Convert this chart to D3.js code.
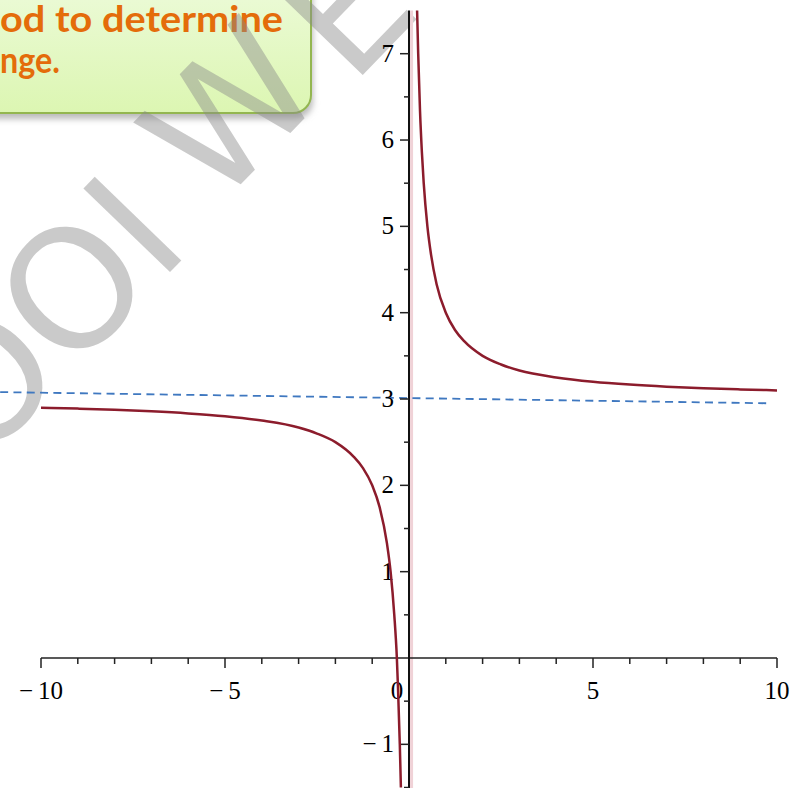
<!DOCTYPE html>
<html>
<head>
<meta charset="utf-8">
<script src="https://cdn.jsdelivr.net/npm/d3@7"></script>
<style>
  html, body { margin: 0; padding: 0; background: #fff; overflow: hidden; }
  svg { display: block; }
  .tick-label { font-family: "Liberation Serif", "Times New Roman", serif; font-size: 25px; fill: #000; }
</style>
</head>
<body>
<svg id="vis" width="801" height="788"></svg>
<script>
const width = 801;
const height = 788;

// values
const rightBranchX = [0.22, 0.25, 0.3, 0.35, 0.4, 0.5, 0.6, 0.75, 1.0, 1.25, 1.5, 2.0, 2.5, 3.0, 4.0, 5.0, 6.0, 7.0, 8.0, 9.0, 10.0];
const rightBranchY = [7.5, 7.0, 6.33, 5.86, 5.5, 5.0, 4.67, 4.33, 4.0, 3.8, 3.67, 3.5, 3.4, 3.33, 3.25, 3.2, 3.167, 3.143, 3.125, 3.111, 3.1];
const leftBranchX = [-10, -9, -8, -7, -6, -5, -4, -3, -2.5, -2, -1.5, -1.25, -1, -0.8, -0.6, -0.5, -0.4, -0.33, -0.3, -0.25, -0.22];
const leftBranchY = [2.9, 2.889, 2.875, 2.857, 2.833, 2.8, 2.75, 2.67, 2.6, 2.5, 2.33, 2.2, 2.0, 1.75, 1.33, 1.0, 0.5, 0.0, -0.33, -1.0, -1.5];
const asymptoteX = [-11.11, 9.83];
const asymptoteY = [3.08, 2.95];

const xMajorTicks = [-10, -5, 0, 5, 10];
const xMinorTicks = d3.range(-10, 11, 1);
const yMajorTicks = [-1, 1, 2, 3, 4, 5, 6, 7];
const yMinorTicks = [-1.5, -0.5, 0.5, 1.5, 2.5, 3.5, 4.5, 5.5, 6.5];

const calloutLines = ["od to determine", "nge."];
const watermarkLetters = ["O", "O", "I", "W", "E"];

const x = d3.scaleLinear().domain([-10, 10]).range([41, 777]);
const y = d3.scaleLinear().domain([0, 7]).range([658, 53.7]);

const svg = d3.select("#vis");
const defs = svg.append("defs");

// callout box (cropped in top-left corner)
let grad = defs.append("linearGradient")
    .attr("id", "boxFill")
    .attr("x1", 0).attr("y1", 0).attr("x2", 0).attr("y2", 1);
grad.append("stop").attr("offset", "0%").attr("stop-color", "#eefbdc");
grad.append("stop").attr("offset", "100%").attr("stop-color", "#dcf6b2");

let shadow = defs.append("filter")
    .attr("id", "shadow")
    .attr("x", "-20%").attr("y", "-20%").attr("width", "140%").attr("height", "140%");
shadow.append("feGaussianBlur").attr("stdDeviation", 3);

svg.append("rect")
    .attr("x", -30).attr("y", -30)
    .attr("width", 343).attr("height", 146)
    .attr("rx", 18)
    .attr("fill", "#bbbbbb")
    .attr("filter", "url(#shadow)")
    .attr("transform", "translate(0,3)");

svg.append("rect")
    .attr("x", -30).attr("y", -30)
    .attr("width", 341).attr("height", 143)
    .attr("rx", 18)
    .attr("fill", "url(#boxFill)")
    .attr("stroke", "#93b650")
    .attr("stroke-width", 2);

svg.append("g")
    .selectAll("text")
    .data(calloutLines)
    .enter()
    .append("text")
    .attr("x", 0)
    .attr("y", (d, i) => 32 + i * 41)
    .attr("font-family", "Lato, 'Open Sans', sans-serif")
    .attr("font-weight", 700)
    .attr("font-size", 36)
    .attr("fill", "#e46c0a")
    .attr("textLength", (d, i) => i === 0 ? 283 : 60)
    .attr("lengthAdjust", "spacingAndGlyphs")
    .text(d => d);

// watermark, one letter at a time along a diagonal
const wmCentres = [[-18, 380], [72, 288], [133, 225], [230, 110], [345, 8]];
svg.append("g")
    .selectAll("text")
    .data(watermarkLetters)
    .enter()
    .append("text")
    .attr("transform", (d, i) => `translate(${wmCentres[i][0]},${wmCentres[i][1]}) rotate(-46)`)
    .attr("text-anchor", "middle")
    .attr("dy", "0.36em")
    .attr("font-family", "'DejaVu Sans', sans-serif")
    .attr("font-size", 165)
    .attr("fill", "#8a8a8a")
    .attr("fill-opacity", 0.45)
    .text(d => d);

let plot = svg.append("g").attr("id", "plot");

// faint discontinuity line
plot.append("line")
    .attr("x1", x(0.07)).attr("x2", x(0.07))
    .attr("y1", y(7.5)).attr("y2", height)
    .attr("stroke", "#f0d2d7")
    .attr("stroke-width", 3);

// asymptote (dashed)
let dashLine = d3.line()
    .x((d, i) => x(asymptoteX[i]))
    .y((d, i) => y(asymptoteY[i]));

plot.append("path")
    .attr("d", dashLine(asymptoteX))
    .attr("fill", "none")
    .attr("stroke", "#3f78c0")
    .attr("stroke-width", 1.8)
    .attr("stroke-dasharray", "8,5.3");

// axes
plot.append("line")
    .attr("x1", x(-10)).attr("x2", x(10))
    .attr("y1", y(0)).attr("y2", y(0))
    .attr("stroke", "#222").attr("stroke-width", 1.6);

plot.append("line")
    .attr("x1", x(0)).attr("x2", x(0))
    .attr("y1", y(7.5)).attr("y2", height)
    .attr("stroke", "#111").attr("stroke-width", 2);

plot.selectAll("line.xminor")
    .data(xMinorTicks.filter(d => d !== 0))
    .enter()
    .append("line")
    .attr("class", "xminor")
    .attr("x1", d => x(d)).attr("x2", d => x(d))
    .attr("y1", y(0))
    .attr("y2", d => y(0) + (d % 5 === 0 ? 10 : 6))
    .attr("stroke", "#222").attr("stroke-width", 1.5);

plot.selectAll("text.xlabel")
    .data(xMajorTicks)
    .enter()
    .append("text")
    .attr("class", "tick-label xlabel")
    .attr("x", d => d === 0 ? x(d) - 12 : x(d))
    .attr("y", y(0) + 41)
    .attr("text-anchor", "middle")
    .text(d => d < 0 ? "\u2212" + "\u2009" + Math.abs(d) : d);

plot.selectAll("line.ytick")
    .data(yMajorTicks.concat(yMinorTicks))
    .enter()
    .append("line")
    .attr("class", "ytick")
    .attr("x1", d => x(0) - (Number.isInteger(d) ? 9 : 5))
    .attr("x2", x(0))
    .attr("y1", d => y(d)).attr("y2", d => y(d))
    .attr("stroke", "#222").attr("stroke-width", 1.5);

plot.selectAll("text.ylabel")
    .data(yMajorTicks)
    .enter()
    .append("text")
    .attr("class", "tick-label ylabel")
    .attr("x", x(0) - 15)
    .attr("y", d => y(d) + 8)
    .attr("text-anchor", "end")
    .text(d => d < 0 ? "\u2212" + "\u2009" + Math.abs(d) : d);

// the curve, two branches
let curveLine = d3.line()
    .x(d => x(d[0]))
    .y(d => y(d[1]))
    .curve(d3.curveMonotoneX);

let branches = [
    d3.zip(leftBranchX, leftBranchY),
    d3.zip(rightBranchX, rightBranchY)
];

plot.selectAll("path.branch")
    .data(branches)
    .enter()
    .append("path")
    .attr("class", "branch")
    .attr("d", curveLine)
    .attr("fill", "none")
    .attr("stroke", "#8c1c2c")
    .attr("stroke-width", 2.5);
</script>
</body>
</html>
